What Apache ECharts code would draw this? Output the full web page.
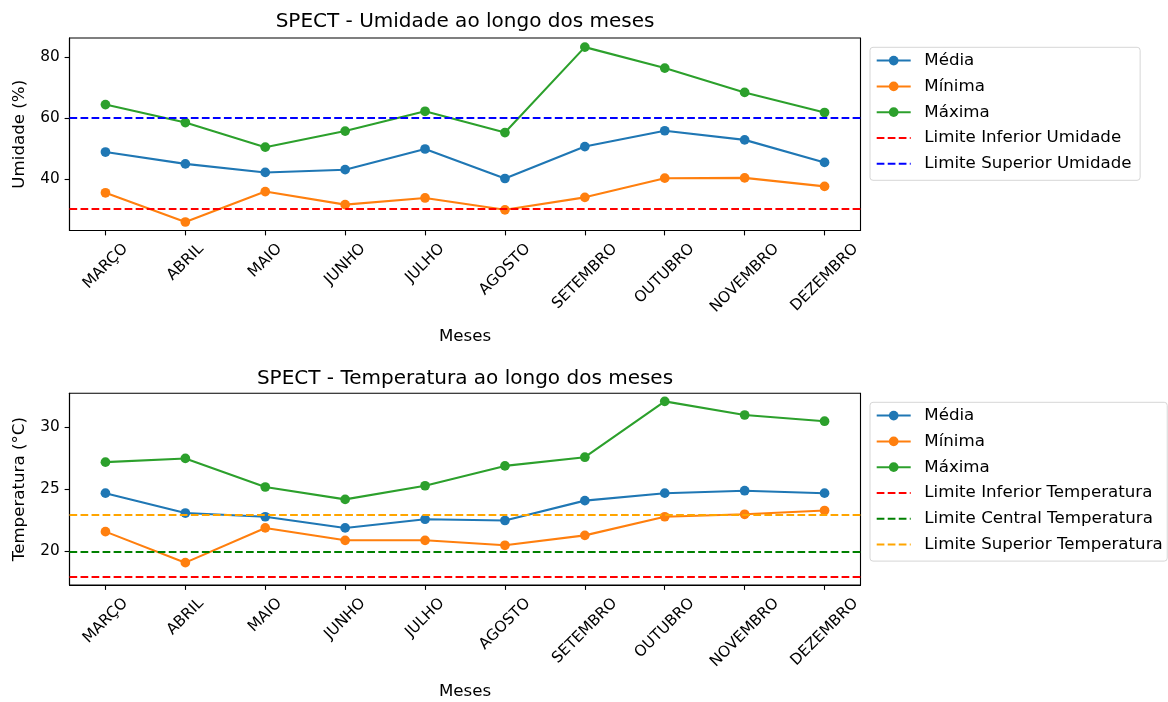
<!DOCTYPE html>
<html>
<head>
<meta charset="utf-8">
<script src="https://cdn.jsdelivr.net/npm/echarts@6/dist/echarts.min.js"></script>
<style>
html,body{margin:0;padding:0;background:#ffffff;}
#chart{width:1168px;height:702px;}
</style>
</head>
<body>
<div id="chart"></div>
<script>
// ---------- data ----------
const meses = ['MARÇO','ABRIL','MAIO','JUNHO','JULHO','AGOSTO','SETEMBRO','OUTUBRO','NOVEMBRO','DEZEMBRO'];

const umidadeMedia  = [48.8, 44.9, 42.1, 43.0, 49.8, 40.1, 50.6, 55.8, 52.8, 45.4];
const umidadeMinima = [35.4, 25.8, 35.8, 31.5, 33.7, 29.8, 33.9, 40.2, 40.3, 37.5];
const umidadeMaxima = [64.4, 58.5, 50.4, 55.7, 62.2, 55.2, 83.3, 76.4, 68.4, 61.8];
const umidadeLimiteInferior = 30;
const umidadeLimiteSuperior = 60;
const umidadeTicks = [40, 60, 80];

const tempMedia  = [24.7, 23.1, 22.8, 21.9, 22.6, 22.5, 24.1, 24.7, 24.9, 24.7];
const tempMinima = [21.6, 19.1, 21.9, 20.9, 20.9, 20.5, 21.3, 22.8, 23.0, 23.3];
const tempMaxima = [27.2, 27.5, 25.2, 24.2, 25.3, 26.9, 27.6, 32.1, 31.0, 30.5];
const tempLimiteInferior = 18;
const tempLimiteCentral = 20;
const tempLimiteSuperior = 23;
const tempTicks = [20, 25, 30];

// ---------- styling ----------
const FONT = 'DejaVu Sans';
const TICK_FS = 15.3, LABEL_FS = 16.67, TITLE_FS = 20;
const C_BLUE = '#1f77b4', C_ORANGE = '#ff7f0e', C_GREEN = '#2ca02c';
const LW = 2.08, MS = 9.7;
const DASH = [7.7, 3.33];
const SPINE = 1.11;
const catIdx = meses.map((_, i) => i);

// rotated tick labels centred on tick like matplotlib (rotation=45, ha='center')
const ctx = document.createElement('canvas').getContext('2d');
ctx.font = TICK_FS + 'px "' + FONT + '"';
const richX = {};
meses.forEach((m, i) => {
  const w = ctx.measureText(m).width;
  const s = (w + 1.164 * TICK_FS) / 2;
  richX['m' + i] = { padding: [s, s, 0, 0], fontSize: TICK_FS, fontFamily: FONT, color: '#000' };
});

const grids = [
  { left: 69.5, top: 38, width: 791, height: 192.5 },
  { left: 69.5, top: 393.3, width: 791, height: 191.7 }
];

function xAxis(gi) {
  return {
    type: 'value', gridIndex: gi, min: -0.45, max: 9.45,
    name: 'Meses', nameLocation: 'middle', nameGap: 98,
    nameTextStyle: { fontFamily: FONT, fontSize: LABEL_FS, color: '#000' },
    axisLine: { show: true, onZero: false, lineStyle: { color: '#000', width: SPINE } },
    axisTick: { show: true, customValues: catIdx, length: 4.9, lineStyle: { color: '#000', width: SPINE } },
    axisLabel: {
      customValues: catIdx, rotate: 45, align: 'center', verticalAlign: 'middle', margin: 9.7,
      fontFamily: FONT, fontSize: TICK_FS, color: '#000',
      formatter: v => '{m' + v + '|' + meses[v] + '}', rich: richX
    },
    splitLine: { show: false }
  };
}
function yAxis(gi, min, max, ticks, name) {
  return {
    type: 'value', gridIndex: gi, min: min, max: max,
    name: name, nameLocation: 'middle', nameRotate: 90, nameGap: 41,
    nameTextStyle: { fontFamily: FONT, fontSize: LABEL_FS, color: '#000' },
    axisLine: { show: true, onZero: false, lineStyle: { color: '#000', width: SPINE } },
    axisTick: { show: true, customValues: ticks, length: 4.9, lineStyle: { color: '#000', width: SPINE } },
    axisLabel: { customValues: ticks, margin: 9.7, fontFamily: FONT, fontSize: TICK_FS, color: '#000' },
    splitLine: { show: false }
  };
}
function dataSeries(name, values, color, gi) {
  return {
    type: 'line', name: name, xAxisIndex: gi, yAxisIndex: gi,
    data: values.map((v, i) => [i, v]),
    symbol: 'circle', symbolSize: MS, showSymbol: true,
    lineStyle: { color: color, width: LW }, itemStyle: { color: color },
    emphasis: { disabled: true }, animation: false, z: 2
  };
}
function limitSeries(name, value, color, gi) {
  return {
    type: 'line', name: name, xAxisIndex: gi, yAxisIndex: gi, data: [],
    symbol: 'none', lineStyle: { color: color, width: LW, type: DASH }, itemStyle: { color: color },
    markLine: {
      silent: true, symbol: ['none', 'none'], label: { show: false }, animation: false,
      lineStyle: { color: color, width: LW, type: DASH },
      emphasis: { disabled: true },
      data: [{ yAxis: value }]
    },
    animation: false, z: 3
  };
}
function legend(top, padRight, names, limitNames) {
  return {
    orient: 'vertical', left: 870, top: top,
    itemWidth: 34, itemHeight: 12.1, itemGap: 8.8,
    padding: [4.8, padRight, 8.0, 5.7],
    borderColor: '#d6d6d6', borderWidth: 1, borderRadius: 3, backgroundColor: '#ffffff',
    selectedMode: false,
    textStyle: { fontFamily: FONT, fontSize: LABEL_FS, color: '#000', padding: [0, 0, 0, 8.6] },
    data: names.map(n => ({ name: n })).concat(limitNames.map(n => ({ name: n, itemStyle: { opacity: 0 } })))
  };
}

const titleStyle = { fontFamily: FONT, fontSize: TITLE_FS, fontWeight: 'normal', color: '#000' };

const option = {
  backgroundColor: '#ffffff',
  animation: false,
  title: [
    { text: 'SPECT - Umidade ao longo dos meses', left: 465, top: 12, textAlign: 'center', padding: 0, textStyle: titleStyle },
    { text: 'SPECT - Temperatura ao longo dos meses', left: 465, top: 369, textAlign: 'center', padding: 0, textStyle: titleStyle }
  ],
  grid: grids.map(g => Object.assign({ show: true, borderColor: '#000', borderWidth: SPINE, backgroundColor: 'transparent', containLabel: false, outerBoundsMode: 'none' }, g)),
  xAxis: [xAxis(0), xAxis(1)],
  yAxis: [
    yAxis(0, 23.0, 86.3, umidadeTicks, 'Umidade (%)'),
    yAxis(1, 17.3, 32.75, tempTicks, 'Temperatura (°C)')
  ],
  legend: [
    legend(47.3, 8.6, ['Média', 'Mínima', 'Máxima'], ['Limite Inferior Umidade', 'Limite Superior Umidade']),
    legend(402.3, 4.5, ['Média', 'Mínima', 'Máxima'], ['Limite Inferior Temperatura', 'Limite Central Temperatura', 'Limite Superior Temperatura'])
  ],
  series: [
    dataSeries('Média', umidadeMedia, C_BLUE, 0),
    dataSeries('Mínima', umidadeMinima, C_ORANGE, 0),
    dataSeries('Máxima', umidadeMaxima, C_GREEN, 0),
    limitSeries('Limite Inferior Umidade', umidadeLimiteInferior, '#ff0000', 0),
    limitSeries('Limite Superior Umidade', umidadeLimiteSuperior, '#0000ff', 0),
    dataSeries('Média', tempMedia, C_BLUE, 1),
    dataSeries('Mínima', tempMinima, C_ORANGE, 1),
    dataSeries('Máxima', tempMaxima, C_GREEN, 1),
    limitSeries('Limite Inferior Temperatura', tempLimiteInferior, '#ff0000', 1),
    limitSeries('Limite Central Temperatura', tempLimiteCentral, '#008000', 1),
    limitSeries('Limite Superior Temperatura', tempLimiteSuperior, '#ffa500', 1)
  ]
};

const chart = echarts.init(document.getElementById('chart'), null, { renderer: 'canvas' });
chart.setOption(option);
</script>
</body>
</html>
